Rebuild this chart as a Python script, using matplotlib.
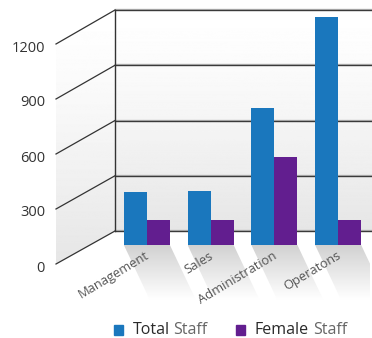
import matplotlib.pyplot as plt
import numpy as np
from matplotlib.patches import Polygon, Rectangle

plt.rcParams['font.family'] = ['Open Sans', 'DejaVu Sans']

categories = ['Management', 'Sales', 'Administration', 'Operatons']
total_staff = [290, 295, 745, 1240]
female_staff = [135, 135, 480, 135]
ticks = [0, 300, 600, 900, 1200]

blue = '#1a77bd'
purple = '#621e8f'

W, H = 372, 338
fig = plt.figure(figsize=(W / 100, H / 100), dpi=100)

# background in pixel coords for the fake 3d walls
bg = fig.add_axes([0, 0, 1, 1])
bg.set_xlim(0, W)
bg.set_ylim(H, 0)
bg.axis('off')

# wall geometry (pixels)
bx, fx = 115, 56
back_top, back_bot = 10, 231
front_top, front_bot = 44, 264


def back_y(v):
    return back_bot - v * (back_bot - back_top) / ticks[-1]


def front_y(v):
    return front_bot - v * (front_bot - front_top) / ticks[-1]


grad = (1.0 - 0.1 * np.linspace(0, 1, 256) ** 1.3).reshape(-1, 1)
bg.imshow(grad, cmap='gray', vmin=0, vmax=1, aspect='auto',
          extent=(bx, W, back_bot, back_top), zorder=0)
left_poly = Polygon([(fx, front_top), (bx, back_top), (bx, back_bot), (fx, front_bot)],
                    closed=True, facecolor='none', edgecolor='none')
bg.add_patch(left_poly)
im2 = bg.imshow(grad, cmap='gray', vmin=0, vmax=1, aspect='auto',
                extent=(fx, bx, front_bot, back_top), zorder=0)
im2.set_clip_path(left_poly)

for v in ticks:
    yb = back_y(v)
    bg.plot([bx, W], [yb - 1, yb - 1], color='#bdbdbd', lw=1, zorder=1)
    bg.plot([bx, W], [yb, yb], color='#3a3a3a', lw=1, zorder=1)
    bg.plot([fx, bx], [front_y(v), yb], color='#333333', lw=0.9, zorder=1)
    bg.text(45, front_y(v) + 4, str(v), ha='right', va='center',
            fontsize=10.5, color='#333333')
bg.plot([bx, bx], [back_top, back_bot], color='#333333', lw=1, zorder=1)

# bars; axes reaches below zero so the shadows fit inside it
px_per_unit = 0.184
zero_px = 245
below = 60 / px_per_unit
top = 1300
ax_bot = zero_px + below * px_per_unit
ax_top = zero_px - top * px_per_unit
ax = fig.add_axes([115 / W, (H - ax_bot) / H, 255 / W, (ax_bot - ax_top) / H])
ax.axis('off')
x = np.arange(len(categories))
bw = 23 / 63.7
ax.bar(x - bw / 2, total_staff, bw, color=blue, zorder=3)
ax.bar(x + bw / 2, female_staff, bw, color=purple, zorder=3)

# shadows below each group
sgrad = np.linspace(0.82, 1.0, 256).reshape(-1, 1)
dx, dh = 26 / 63.7, 55 / px_per_unit
for xi, name in zip(x, categories):
    shp = Polygon([(xi - bw, 0), (xi + bw, 0), (xi + bw + dx, -dh), (xi - bw + dx, -dh)],
                  closed=True, facecolor='none', edgecolor='none')
    ax.add_patch(shp)
    sim = ax.imshow(sgrad, cmap='gray', vmin=0, vmax=1, aspect='auto',
                    extent=(xi - bw, xi + bw + dx, -dh, 0), zorder=1)
    sim.set_clip_path(shp)
    ax.text(xi - 0.03, -22, name, rotation=31, rotation_mode='anchor',
            ha='right', va='top', fontsize=9.3, color='#555555', zorder=4)
ax.set_xlim(-0.5, 3.5)
ax.set_ylim(-below, top)

# legend
fig.canvas.draw()
r = fig.canvas.get_renderer()
legend_items = [('Total', 'Staff', blue, 114), ('Female', 'Staff', purple, 236)]
for strong, weak, col, lx in legend_items:
    bg.add_patch(Rectangle((lx, 325), 9, 10, color=col))
    t = bg.text(lx + 19, 330, strong, ha='left', va='center', fontsize=11.5, color='#2a2a2a')
    ext = t.get_window_extent(r)
    bg.text(ext.x1 / fig.dpi * 100 + 3.5, 330, weak, ha='left', va='center',
            fontsize=11.5, color='#666666')

fig.savefig('out.png', dpi=100)
